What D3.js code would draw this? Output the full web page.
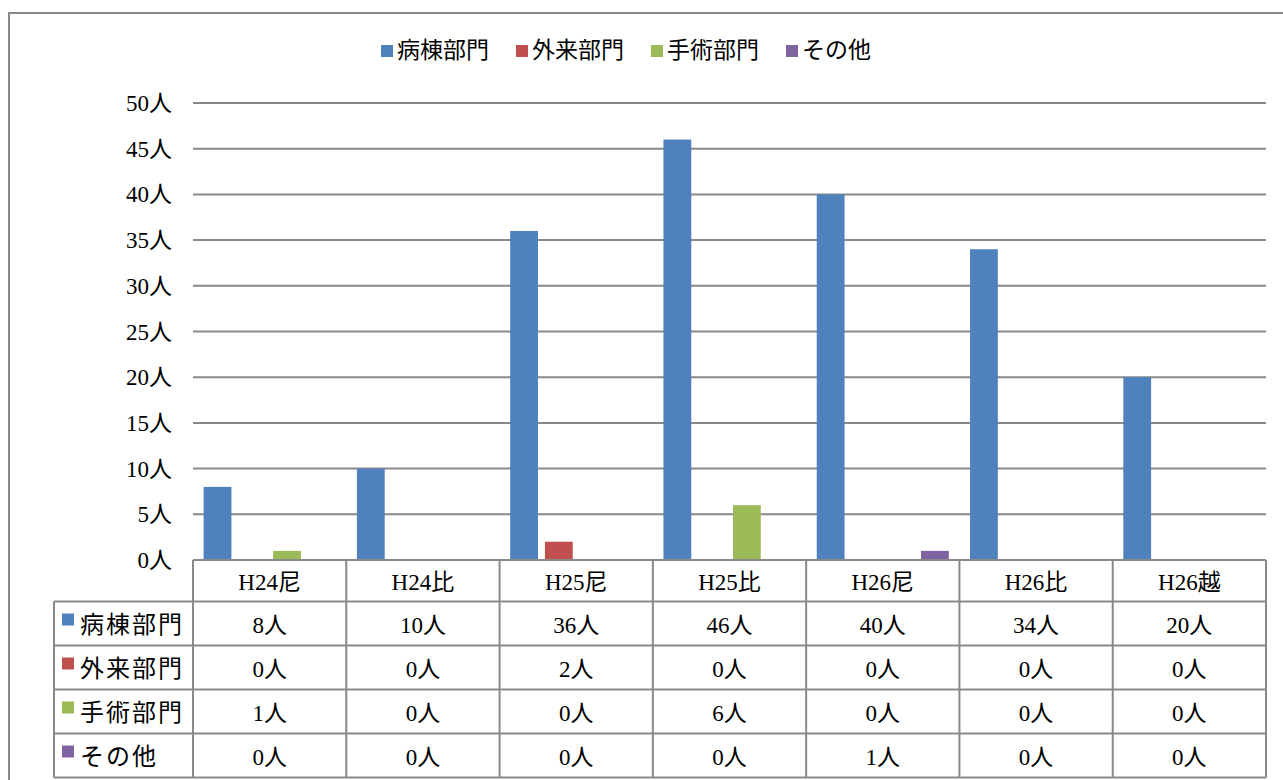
<!DOCTYPE html>
<html>
<head>
<meta charset="utf-8">
<script src="https://cdn.jsdelivr.net/npm/d3@7"></script>
<style>
  html, body { margin: 0; padding: 0; background: #fff; }
  svg { display: block; }
  text { font-family: "Liberation Serif", "Noto Sans CJK JP", serif; fill: #000; }
</style>
</head>
<body>
<svg id="chart" width="1283" height="780"></svg>
<script>
// Categories (fiscal year + site) and staff counts per department
const categories = ["H24尼", "H24比", "H25尼", "H25比", "H26尼", "H26比", "H26越"];
const seriesNames = ["病棟部門", "外来部門", "手術部門", "その他"];
const ward      = [8, 10, 36, 46, 40, 34, 20];
const outpatient = [0, 0, 2, 0, 0, 0, 0];
const surgery   = [1, 0, 0, 6, 0, 0, 0];
const other     = [0, 0, 0, 0, 1, 0, 0];
const yTicks = [0, 5, 10, 15, 20, 25, 30, 35, 40, 45, 50];
const unit = "人";

const seriesValues = [ward, outpatient, surgery, other];
const colors = ["#4F81BD", "#C0504D", "#9BBB59", "#8064A2"];
const gridColor = "#898989";

const svg = d3.select("#chart");

// Outer chart frame (runs off the right and bottom edges)
svg.append("rect")
  .attr("x", 9).attr("y", 13)
  .attr("width", 1300).attr("height", 800)
  .attr("fill", "none").attr("stroke", gridColor).attr("stroke-width", 2);

const plotLeft = 193, plotRight = 1266;
const y = d3.scaleLinear().domain([0, 50]).range([560, 103]);
const x0 = d3.scaleBand().domain(categories).range([plotLeft, plotRight]);
const x1 = d3.scaleBand().domain(seriesNames)
  .range([10.6, x0.bandwidth() - 10.6]).paddingInner(0.2);

// Horizontal gridlines
svg.append("g").selectAll("line")
  .data(yTicks.filter(d => d > 0))
  .join("line")
  .attr("x1", plotLeft).attr("x2", plotRight)
  .attr("y1", d => y(d)).attr("y2", d => y(d))
  .attr("stroke", gridColor).attr("stroke-width", 2);

// Y-axis tick labels
svg.append("g").selectAll("text")
  .data(yTicks)
  .join("text")
  .attr("x", 172)
  .attr("y", d => y(d))
  .attr("dy", "0.35em")
  .attr("text-anchor", "end")
  .attr("font-size", 23)
  .text(d => d + unit);

// Bars
const barData = [];
categories.forEach((c, i) => {
  seriesNames.forEach((s, j) => {
    barData.push({ cat: c, series: s, value: seriesValues[j][i], color: colors[j] });
  });
});
svg.append("g").selectAll("rect")
  .data(barData)
  .join("rect")
  .attr("x", d => x0(d.cat) + x1(d.series))
  .attr("width", x1.bandwidth())
  .attr("y", d => y(d.value))
  .attr("height", d => y(0) - y(d.value))
  .attr("fill", d => d.color);

// Data table below the plot
const tableTop = y(0);
const headerBottom = 601.5;
const rowH = 44;
const labelLeft = 54;
const tableBottom = headerBottom + rowH * seriesNames.length;
const table = svg.append("g")
  .attr("stroke", gridColor).attr("stroke-width", 2).attr("fill", "none");

// Axis line / table top
table.append("line")
  .attr("x1", plotLeft).attr("x2", plotRight)
  .attr("y1", tableTop).attr("y2", tableTop);
// Row separators
d3.range(seriesNames.length + 1).forEach(k => {
  const yy = headerBottom + k * rowH;
  table.append("line")
    .attr("x1", labelLeft).attr("x2", plotRight)
    .attr("y1", yy).attr("y2", yy);
});
// Column separators
const colEdges = categories.map(c => x0(c)).concat([plotRight]);
table.selectAll("line.col")
  .data(colEdges)
  .join("line")
  .attr("class", "col")
  .attr("x1", d => d).attr("x2", d => d)
  .attr("y1", tableTop).attr("y2", tableBottom);
table.append("line")
  .attr("x1", labelLeft).attr("x2", labelLeft)
  .attr("y1", headerBottom).attr("y2", tableBottom);

// Header labels
svg.append("g").selectAll("text")
  .data(categories)
  .join("text")
  .attr("x", d => x0(d) + x0.bandwidth() / 2)
  .attr("y", (tableTop + headerBottom) / 2 + 1)
  .attr("dy", "0.35em")
  .attr("text-anchor", "middle")
  .attr("font-size", 23)
  .text(d => d);

// Row labels with colour keys
seriesNames.forEach((s, j) => {
  const cy = headerBottom + j * rowH + rowH / 2;
  svg.append("rect")
    .attr("x", 62).attr("y", cy - 10)
    .attr("width", 12).attr("height", 12)
    .attr("fill", colors[j]);
  svg.append("text")
    .attr("x", 80).attr("y", cy + 1)
    .attr("dy", "0.35em")
    .attr("font-size", 24)
    .attr("letter-spacing", 2)
    .text(s);
  svg.append("g").selectAll("text")
    .data(categories.map((c, i) => ({ cat: c, v: seriesValues[j][i] })))
    .join("text")
    .attr("x", d => x0(d.cat) + x0.bandwidth() / 2)
    .attr("y", cy + 1)
    .attr("dy", "0.35em")
    .attr("text-anchor", "middle")
    .attr("font-size", 23)
    .text(d => d.v + unit);
});

// Legend
const legend = svg.append("g");
let lx = 381;
seriesNames.forEach((s, j) => {
  legend.append("rect")
    .attr("x", lx).attr("y", 45)
    .attr("width", 12).attr("height", 12)
    .attr("fill", colors[j]);
  const t = legend.append("text")
    .attr("x", lx + 16).attr("y", 50)
    .attr("dy", "0.35em")
    .attr("font-size", 23)
    .text(s);
  lx += 16 + t.node().getComputedTextLength() + 27;
});
</script>
</body>
</html>
